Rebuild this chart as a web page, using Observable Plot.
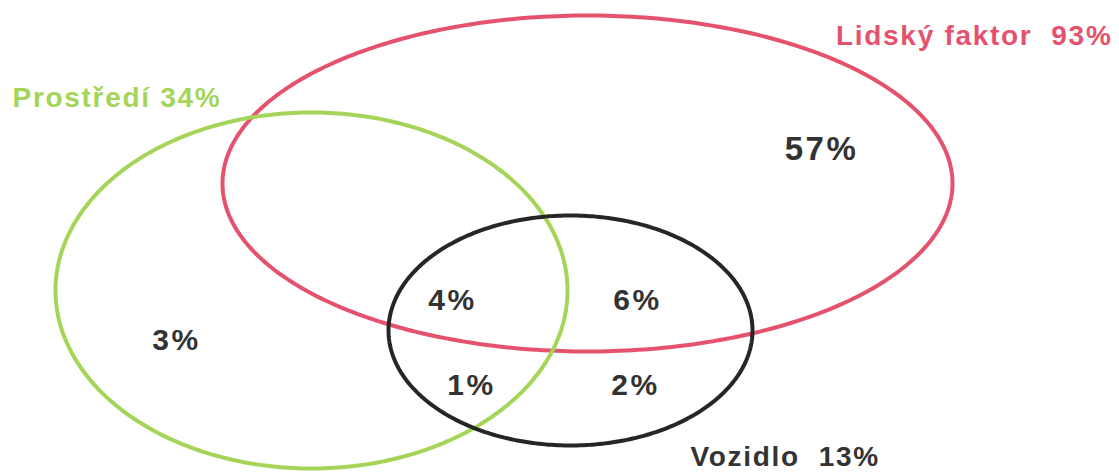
<!DOCTYPE html>
<html><head><meta charset="utf-8">
<script src="https://cdn.jsdelivr.net/npm/d3@7"></script>
<script src="https://cdn.jsdelivr.net/npm/@observablehq/plot@0.6"></script>
<style>body{margin:0;background:#fff}</style>
</head><body><div id="chart"></div>
<script>
// Sets (name, share) and ellipse layout
const setNames = ["Lidský faktor", "Prostředí", "Vozidlo"];
const setShares = [93, 34, 13];
const setColors = ["#e5526d", "#a4d558", "#262626"];
const ellipseCx = [587, 311, 570];
const ellipseCy = [183, 290, 330];
const ellipseRx = [365, 256, 182];
const ellipseRy = [168, 178, 115];

// Region values
const regionValues = [57, 3, 4, 6, 1, 2];
const regionX = [821, 176, 452, 637, 471, 635];
const regionY = [149, 340, 300, 300, 385, 385];
const regionSize = [33, 30, 30, 30, 30, 30];

// Set label placement
const labelX = [1112, 12, 690];
const labelY = [36, 98, 457];
const labelAnchor = ["end", "start", "start"];
const labelText = ["Lidský faktor  93%", "Prostředí 34%", "Vozidlo  13%"];
const labelFill = ["#e5526d", "#a4d558", "#333333"];

const outline = [];
setNames.forEach((name, i) => {
  for (let k = 0; k <= 360; k++) {
    const t = k * Math.PI / 180;
    outline.push({set: name, x: ellipseCx[i] + ellipseRx[i] * Math.cos(t), y: ellipseCy[i] + ellipseRy[i] * Math.sin(t), color: setColors[i]});
  }
});
const regions = regionValues.map((v, i) => ({x: regionX[i], y: regionY[i], label: v + "%", size: regionSize[i]}));
const labels = labelText.map((t, i) => ({x: labelX[i], y: labelY[i], text: t, anchor: labelAnchor[i], color: labelFill[i]}));

const chart = Plot.plot({
  width: 1119, height: 474,
  margin: 0,
  x: {domain: [0, 1119], range: [0, 1119], axis: null},
  y: {domain: [0, 474], range: [0, 474], axis: null},
  style: {fontFamily: "Liberation Sans, Arial, sans-serif", background: "#fff"},
  marks: [
    Plot.line(outline, {x: "x", y: "y", z: "set", stroke: "color", strokeWidth: 4, curve: "linear"}),
    Plot.text(regions.filter(d => d.size > 30), {x: "x", y: "y", text: "label", fontSize: 33, fontWeight: "bold", fill: "#333"}),
    Plot.text(regions.filter(d => d.size <= 30), {x: "x", y: "y", text: "label", fontSize: 30, fontWeight: "bold", fill: "#333"}),
    Plot.text(labels.filter(d => d.anchor === "end"), {x: "x", y: "y", text: "text", textAnchor: "end", fontSize: 28, fontWeight: "bold", fill: "color"}),
    Plot.text(labels.filter(d => d.anchor === "start"), {x: "x", y: "y", text: "text", textAnchor: "start", fontSize: 28, fontWeight: "bold", fill: "color"})
  ]
});
const groups = d3.select(chart).selectAll("g[aria-label='text']").nodes();
groups.forEach((g, i) => {
  g.setAttribute("letter-spacing", i < 2 ? "2.5px" : "1.7px");
});
document.getElementById("chart").append(chart);
</script></body></html>
